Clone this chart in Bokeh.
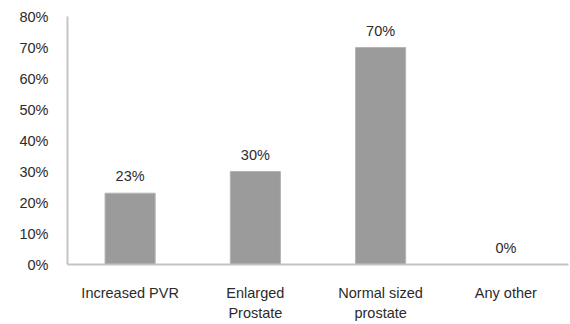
from bokeh.plotting import figure
from bokeh.models import (ColumnDataSource, SingleIntervalTicker, NumeralTickFormatter,
                          LabelSet, FixedTicker)
from bokeh.core.properties import value
from bokeh.embed import file_html
from bokeh.resources import INLINE

# Ultrasound findings, share of patients
categories = ["Increased PVR", "Enlarged\nProstate", "Normal sized\nprostate", "Any other"]
values = [0.23, 0.30, 0.70, 0.0]
value_labels = ["23%", "30%", "70%", "0%"]

FONT = "Liberation Sans"
SIZE = "14.5px"
TEXT = "#2b2b2b"

positions = list(range(1, len(categories) + 1))
source = ColumnDataSource(dict(x=positions, val=values, lab=value_labels))

p = figure(
    x_range=(0.5, len(categories) + 0.5), y_range=(0, 0.8),
    width=570, height=324,
    output_backend="svg", toolbar_location=None,
    min_border_left=67, min_border_right=2, min_border_top=16, min_border_bottom=59,
)
p.outline_line_color = None
p.background_fill_color = "white"
p.border_fill_color = "white"

p.vbar(x="x", top="val", width=0.4, source=source,
       fill_color="#9b9b9b", line_color="#b4b4b4", line_width=1)

# value labels above the bars
p.add_layout(LabelSet(x="x", y="val", text="lab", source=source,
                      text_align="center", text_baseline="bottom", y_offset=9,
                      text_font=value(FONT), text_font_size=value(SIZE),
                      text_color=TEXT))

p.xgrid.grid_line_color = None
p.ygrid.grid_line_color = None

p.yaxis.ticker = SingleIntervalTicker(interval=0.1)
p.yaxis.formatter = NumeralTickFormatter(format="0%")
p.yaxis.major_tick_line_color = None
p.yaxis.minor_tick_line_color = None
p.yaxis.axis_line_color = "#c4c4c4"
p.yaxis.axis_line_width = 2
p.yaxis.major_label_standoff = 13
p.yaxis.major_label_text_font = FONT
p.yaxis.major_label_text_font_size = SIZE
p.yaxis.major_label_text_color = TEXT

p.xaxis.ticker = FixedTicker(ticks=positions)
p.xaxis.major_label_overrides = {pos: name for pos, name in zip(positions, categories)}
p.xaxis.major_tick_line_color = None
p.xaxis.minor_tick_line_color = None
p.xaxis.axis_line_color = "#c4c4c4"
p.xaxis.axis_line_width = 2
p.xaxis.major_label_standoff = 14
p.xaxis.major_label_text_font = FONT
p.xaxis.major_label_text_font_size = SIZE
p.xaxis.major_label_text_color = TEXT
p.xaxis.major_label_text_line_height = 1.3

open("out.html", "w").write(file_html(p, INLINE))
